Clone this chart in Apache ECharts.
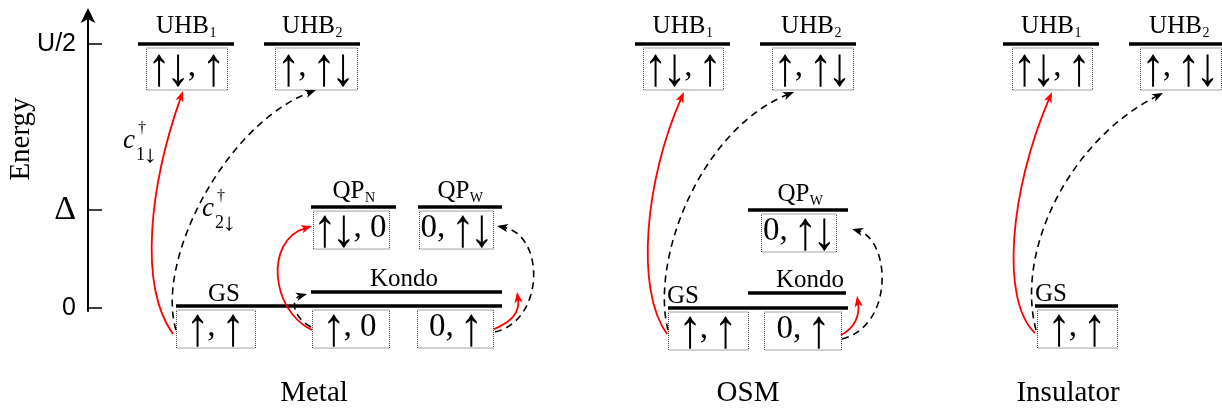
<!DOCTYPE html>
<html>
<head>
<meta charset="utf-8">
<title>Energy level scheme</title>
<script src="https://cdn.jsdelivr.net/npm/echarts@6/dist/echarts.min.js"></script>
<style>
  html, body { margin: 0; padding: 0; background: #fff; }
  #chart { width: 1222px; height: 411px; }
</style>
</head>
<body>
<div id="chart"></div>
<script>
// ---------------------------------------------------------------
// Data
// ---------------------------------------------------------------
// Energy axis marks (energies in units of Δ)
const tickValues = [0, 1, 2.694];
const tickLabels = ['0', 'Δ', 'U/2'];

const panelNames = ['Metal', 'OSM', 'Insulator'];

// Levels: name (subscript after "_"), panel, energy
const levelName   = ['GS', 'Kondo', 'QP_N', 'QP_W', 'UHB_1', 'UHB_2',
                     'GS', 'Kondo', 'QP_W', 'UHB_1', 'UHB_2',
                     'GS', 'UHB_1', 'UHB_2'];
const levelPanel  = [0, 0, 0, 0, 0, 0,  1, 1, 1, 1, 1,  2, 2, 2];
const levelEnergy = [0.02, 0.163, 1.03, 1.03, 2.694, 2.694,
                     0, 0.153, 1.0, 2.694, 2.694,
                     0.02, 2.694, 2.694];

// Configurations (orbital 1, orbital 2) and the level each one sits under
const stateText  = ['↑, ↑', '↑, 0', '0, ↑', '↑↓, 0', '0, ↑↓', '↑↓, ↑', '↑, ↑↓',
                    '↑, ↑', '0, ↑', '0, ↑↓', '↑↓, ↑', '↑, ↑↓',
                    '↑, ↑', '↑↓, ↑', '↑, ↑↓'];
const stateLevel = [0, 0, 0, 2, 3, 4, 5,  6, 6, 8, 9, 10,  11, 12, 13];

// Transitions: source configuration, target ("s" = configuration, "l" = level),
// operator (1 = c†1↓, 2 = c†2↓)
const transFrom = [0, 0, 1, 1, 2, 2,  7, 7, 8, 8,  12, 12];
const transTo   = ['s5', 's6', 's3', 'l1', 'l1', 's4',  's10', 's11', 'l7', 's9',  's13', 's14'];
const transOp   = [1, 2, 1, 2, 1, 2,  1, 2, 1, 2,  1, 2];

// ---------------------------------------------------------------
// Layout (horizontal placement in px, offsets and styles)
// ---------------------------------------------------------------
const SERIF = '"Liberation Serif", "DejaVu Serif", serif';
const SANS = '"Liberation Sans", "DejaVu Sans", sans-serif';
const MID = 0.34;              // canvas "middle" sits this many em above the baseline

const panelCenterX = [314, 748, 1068];

const levelSpan = [[176, 502], [311, 502], [311, 396], [418, 502], [138, 234], [264, 360],
                   [668, 848], [748, 846], [748, 848], [635, 730], [760, 856],
                   [1035, 1118], [1003, 1099], [1129, 1226]];
const levelLabelX = [224, 404, null, null, null, null,
                     683, 810, 800, null, 811,
                     1051, null, 1179];
const labelLift = { GS: 3.5, Kondo: 4, QP: 7.5, UHB: 9 };

const stateSpan = [[176, 255], [312, 389], [417, 493], [313, 389], [419, 493], [146, 227], [275, 357],
                   [668, 748], [764, 841], [761, 836], [643, 723], [772, 853],
                   [1037, 1117], [1012, 1092], [1140, 1221]];

// start: [box side, dx, dy from box top]; end: [anchor, dx, dy]; c1/c2: control offsets
const arrowStart = [['L', -3, 24.5], ['L', 0, 20.5], ['L', 0, 20.5], ['L', -1, 17.5], ['R', 1, 19.5], ['R', 2, 22.5],
                    ['L', -1, 22.5], ['L', 0, 18.5], ['R', 0, 23.5], ['R', 1, 27.5],
                    ['L', -2, 23.5], ['L', -1, 20.5]];
const arrowEnd   = [['B', -3.5, 1.5], ['B', 0, 0.5], ['L', -1, 15.5], ['L', -4, 2], ['R', 15, 0], ['R', 4, 15.5],
                    ['B', 1, 2.5], ['B', -18.5, 2.5], ['R', 11, 3], ['R', 16, 15.5],
                    ['B', 0, 2.5], ['B', -17.5, 3.5]];
const arrowC1 = [[-35, -49], [-21, -70], [-42, -20], [-21, -12], [18, -7], [50, -12],
                 [-32, -44], [-18, -70], [14, -7], [53, -14],
                 [-35, -33], [-21, -80]];
const arrowC2 = [[-33, 94], [-91, 35], [-47, 14], [-15, 4], [3, 20], [48, 9],
                 [-39, 88], [-94, 38], [3, 19], [38, 11],
                 [-42, 98], [-93, 47]];

const opStyle = {
  1: { stroke: '#ff0000', lineWidth: 1.8, lineDash: null, fill: '#ff0000' },
  2: { stroke: '#000000', lineWidth: 1.6, lineDash: [7, 5], fill: '#000000' }
};

// spin arrows inside the configuration boxes and in operator subscripts
const BOX_FONT = 33;
const BOX_ARROW = { h: 33, w: 13, slot: 19, lift: 8 };
const SUB_ARROW = { h: 16, w: 8, slot: 11, lift: 6 };

// ---------------------------------------------------------------
const measureCtx = document.createElement('canvas').getContext('2d');
function textWidth(t, size) {
  measureCtx.font = size + 'px ' + SERIF;
  return measureCtx.measureText(t).width;
}
function glyphBox(ch, size) {
  measureCtx.font = size + 'px ' + SERIF;
  measureCtx.textBaseline = 'middle';
  measureCtx.textAlign = 'center';
  const m = measureCtx.measureText(ch);
  measureCtx.textBaseline = 'alphabetic';
  measureCtx.textAlign = 'left';
  return { asc: m.actualBoundingBoxAscent, desc: m.actualBoundingBoxDescent,
           l: m.actualBoundingBoxLeft, r: m.actualBoundingBoxRight };
}

// text element placed by its baseline
function baselineText(text, left, base, size, italic) {
  return {
    type: 'text',
    x: left,
    y: base - MID * size,
    style: {
      text: text, fill: '#000', fontSize: size, fontFamily: SERIF,
      fontStyle: italic ? 'italic' : 'normal',
      align: 'left', verticalAlign: 'middle'
    }
  };
}

const isArrow = ch => ch === '↑' || ch === '↓';

function runWidth(text, size, arrow) {
  let w = 0;
  for (const ch of text) w += isArrow(ch) ? arrow.slot : textWidth(ch, size);
  return w;
}

// a string laid out glyph by glyph; arrows stretched to a fixed height and width
function runElements(text, left, base, size, arrow) {
  const els = [];
  let x = left;
  for (const ch of text) {
    if (isArrow(ch)) {
      const g = glyphBox(ch, size);
      els.push({
        type: 'group',
        x: x + arrow.slot / 2,
        y: base - arrow.lift,
        scaleX: arrow.w / Math.max(1, g.l + g.r),
        scaleY: arrow.h / Math.max(1, g.asc + g.desc),
        children: [{
          type: 'text',
          x: (g.l - g.r) / 2,
          y: (g.asc - g.desc) / 2,
          style: { text: ch, fill: '#000', fontSize: size, fontFamily: SERIF,
                   align: 'center', verticalAlign: 'middle' }
        }]
      });
      x += arrow.slot;
    } else {
      els.push(baselineText(ch, x, base, size));
      x += textWidth(ch, size);
    }
  }
  return els;
}

// main text with optional subscript, centred on cx
function subscriptLabel(main, sub, cx, base, size, subSize) {
  const w1 = textWidth(main, size);
  const w2 = sub ? textWidth(sub, subSize) : 0;
  const x0 = cx - (w1 + w2) / 2;
  const els = [baselineText(main, x0, base, size)];
  if (sub) els.push(baselineText(sub, x0 + w1 + 0.5, base + 3.5, subSize));
  return els;
}

function levelKind(li) { return levelName[li].split('_')[0]; }

function boxGeom(si, api) {
  const li = stateLevel[si];
  const p0 = api.coord([stateSpan[si][0], levelEnergy[li]]);
  const p1 = api.coord([stateSpan[si][1], levelEnergy[li]]);
  const top = p0[1] + 3.5;
  const h = levelKind(li) === 'UHB' ? 42 : 38;
  return { left: p0[0], right: p1[0], top: top, bottom: top + h, h: h, uhb: h === 42 };
}

const chart = echarts.init(document.getElementById('chart'), null, { renderer: 'canvas' });

const levelSeries = {
  type: 'custom',
  name: 'levels',
  coordinateSystem: 'cartesian2d',
  silent: true,
  data: levelEnergy.map((e, i) => [levelSpan[i][0], e]),
  renderItem: function (params, api) {
    const i = params.dataIndex;
    const a = api.coord([levelSpan[i][0], levelEnergy[i]]);
    const b = api.coord([levelSpan[i][1], levelEnergy[i]]);
    const parts = levelName[i].split('_');
    const cx = levelLabelX[i] != null ? levelLabelX[i] : (a[0] + b[0]) / 2;
    const base = a[1] - labelLift[parts[0]];
    const children = [{
      type: 'line',
      shape: { x1: a[0], y1: a[1], x2: b[0], y2: b[1] },
      style: { stroke: '#000', lineWidth: 3.5 }
    }].concat(subscriptLabel(parts[0], parts[1], cx, base, 25, 14));
    return { type: 'group', children: children };
  }
};

const boxSeries = {
  type: 'custom',
  name: 'configurations',
  coordinateSystem: 'cartesian2d',
  silent: true,
  data: stateLevel.map((li, i) => [stateSpan[i][0], levelEnergy[li]]),
  renderItem: function (params, api) {
    const i = params.dataIndex;
    const g = boxGeom(i, api);
    const base = g.top + (g.uhb ? 31 : 29);
    const w = runWidth(stateText[i], BOX_FONT, BOX_ARROW);
    return {
      type: 'group',
      children: [
        {
          type: 'rect',
          shape: { x: g.left + 0.5, y: g.top + 0.5, width: g.right - g.left, height: g.h },
          style: { fill: 'none', stroke: '#444', lineWidth: 1, lineDash: [1, 1] }
        }
      ].concat(runElements(stateText[i], (g.left + g.right) / 2 - w / 2, base, BOX_FONT, BOX_ARROW))
    };
  }
};

const arrowSeries = {
  type: 'custom',
  name: 'transitions',
  coordinateSystem: 'cartesian2d',
  silent: true,
  z: 3,
  data: transFrom.map(si => [stateSpan[si][0], levelEnergy[stateLevel[si]]]),
  renderItem: function (params, api) {
    const i = params.dataIndex;
    const g = boxGeom(transFrom[i], api);
    const s = arrowStart[i];
    const P0 = [(s[0] === 'L' ? g.left : g.right) + s[1], g.top + s[2]];
    const e = arrowEnd[i];
    const ti = +transTo[i].slice(1);
    let P3;
    if (transTo[i][0] === 's') {
      const t = boxGeom(ti, api);
      if (e[0] === 'B') P3 = [(t.left + t.right) / 2 + e[1], t.bottom + e[2]];
      else P3 = [(e[0] === 'L' ? t.left : t.right) + e[1], t.top + e[2]];
    } else {
      const a = api.coord([levelSpan[ti][0], levelEnergy[ti]]);
      const b = api.coord([levelSpan[ti][1], levelEnergy[ti]]);
      P3 = [(e[0] === 'L' ? a[0] : b[0]) + e[1], a[1] + e[2]];
    }
    const P1 = [P0[0] + arrowC1[i][0], P0[1] + arrowC1[i][1]];
    const P2 = [P3[0] + arrowC2[i][0], P3[1] + arrowC2[i][1]];
    const len = Math.hypot(arrowC2[i][0], arrowC2[i][1]);
    const d = [-arrowC2[i][0] / len, -arrowC2[i][1] / len];
    const n = [-d[1], d[0]];
    const L = 11, W = 4.2;
    const back = [P3[0] - d[0] * L, P3[1] - d[1] * L];
    const notch = [P3[0] - d[0] * (L - 3), P3[1] - d[1] * (L - 3)];
    const st = opStyle[transOp[i]];
    const lineStyle = { stroke: st.stroke, lineWidth: st.lineWidth, fill: 'none' };
    if (st.lineDash) lineStyle.lineDash = st.lineDash;
    return {
      type: 'group',
      children: [
        {
          type: 'bezierCurve',
          shape: {
            x1: P0[0], y1: P0[1],
            cpx1: P1[0], cpy1: P1[1],
            cpx2: P2[0], cpy2: P2[1],
            x2: P3[0] - d[0] * 7, y2: P3[1] - d[1] * 7
          },
          style: lineStyle
        },
        {
          type: 'polygon',
          shape: {
            points: [
              P3,
              [back[0] + n[0] * W, back[1] + n[1] * W],
              notch,
              [back[0] - n[0] * W, back[1] - n[1] * W]
            ]
          },
          style: { fill: st.fill, stroke: 'none' }
        }
      ]
    };
  }
};

// operator labels c†1↓ and c†2↓
function operatorLabel(orb, left, base) {
  return {
    type: 'group',
    children: [
      baselineText('c', left, base, 27, true),
      baselineText('†', left + 15, base - 16, 16)
    ].concat(runElements(orb + '↓', left + 13, base + 11, 18, SUB_ARROW))
  };
}

const option = {
  animation: false,
  backgroundColor: '#fff',
  grid: { left: 88, right: 0, top: 15, bottom: 100 },
  xAxis: {
    type: 'value',
    min: 88,
    max: 1222,
    axisLine: { show: false },
    axisTick: { show: false },
    splitLine: { show: false },
    axisLabel: {
      customValues: panelCenterX,
      formatter: v => panelNames[panelCenterX.indexOf(v)],
      margin: 68,
      color: '#000',
      fontFamily: SERIF,
      fontSize: 29
    }
  },
  yAxis: {
    type: 'value',
    min: -3 / 98,
    max: -3 / 98 + 296 / 98,
    splitLine: { show: false },
    axisLine: {
      show: true,
      symbol: ['none', 'arrow'],
      symbolSize: [11, 15],
      symbolOffset: [0, 7],
      lineStyle: { color: '#000', width: 2 }
    },
    axisTick: {
      show: true,
      inside: true,
      length: 14,
      customValues: tickValues,
      lineStyle: { color: '#000', width: 1.5 }
    },
    axisLabel: {
      customValues: tickValues,
      margin: 12,
      formatter: function (v) {
        const k = tickValues.findIndex(t => Math.abs(t - v) < 1e-6);
        const s = k >= 0 ? tickLabels[k] : '';
        return s === 'Δ' ? '{d|Δ}' : '{s|' + s + '}';
      },
      rich: {
        s: { fontFamily: SANS, fontSize: 25, color: '#000' },
        d: { fontFamily: SERIF, fontSize: 34, color: '#000' }
      }
    }
  },
  graphic: [
    {
      type: 'text',
      x: 21,
      y: 139,
      rotation: Math.PI / 2,
      style: {
        text: 'Energy', fill: '#000', fontSize: 29, fontFamily: SERIF,
        align: 'center', verticalAlign: 'middle'
      }
    },
    operatorLabel('1', 123, 150),
    operatorLabel('2', 202, 218)
  ],
  series: [levelSeries, boxSeries, arrowSeries]
};

chart.setOption(option);
</script>
</body>
</html>
